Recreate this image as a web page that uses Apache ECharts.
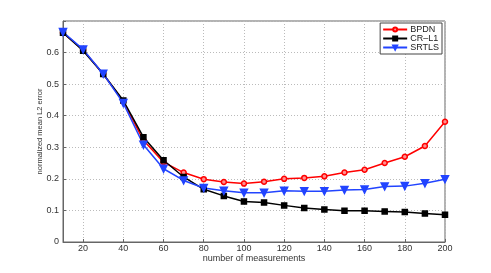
<!DOCTYPE html>
<html><head><meta charset="utf-8">
<script src="https://cdn.jsdelivr.net/npm/echarts@6/dist/echarts.min.js"></script>
<style>html,body{margin:0;padding:0;background:#fff}#c{width:491px;height:273px}</style>
</head><body><div id="c"></div>
<script>
var measurements = [10,20,30,40,50,60,70,80,90,100,110,120,130,140,150,160,170,180,190,200];
var bpdn  = [0.663,0.608,0.532,0.445,0.322,0.253,0.220,0.199,0.190,0.185,0.191,0.200,0.203,0.208,0.220,0.229,0.250,0.270,0.304,0.381];
var crl1  = [0.663,0.606,0.532,0.448,0.332,0.259,0.206,0.167,0.146,0.128,0.125,0.116,0.108,0.103,0.099,0.099,0.097,0.095,0.090,0.086];
var srtls = [0.665,0.610,0.533,0.440,0.308,0.232,0.195,0.171,0.162,0.156,0.156,0.162,0.161,0.161,0.165,0.166,0.176,0.177,0.186,0.199];
var yTicks = [0,0.1,0.2,0.3,0.4,0.5,0.6];

var chart = echarts.init(document.getElementById('c'));
var font = 'Liberation Sans';
function ser(name, data, color, symbol, size, fill, rot){
  return {name:name, type:'line', data:data, color:color, symbol:symbol, symbolSize:size,
    symbolRotate: rot||0, showSymbol:true, animation:false,
    lineStyle:{color:color,width:1.5},
    itemStyle:{color:fill,borderColor:color,borderWidth:1.5}};
}
chart.setOption({
  animation:false,
  backgroundColor:'#fff',
  grid:{left:63,right:46,top:21,bottom:31,show:true,borderColor:'#666',borderWidth:1},
  legend:{orient:'vertical',right:49,top:23,itemGap:0,itemWidth:24,itemHeight:5,
    padding:[2,3,2,2],borderColor:'#444',borderWidth:1,backgroundColor:'#fff',
    textStyle:{fontFamily:font,fontSize:9,color:'#222',padding:[0,0,0,-2]},
    data:['BPDN','CR\u2013L1','SRTLS']},
  xAxis:{type:'category',boundaryGap:false,data:measurements,
    name:'number of measurements',nameLocation:'middle',nameGap:12,nameMoveOverlap:false,
    nameTextStyle:{fontFamily:font,fontSize:9,color:'#333'},
    axisLine:{lineStyle:{color:'#666'}},
    axisTick:{inside:true,length:3,interval:function(i,v){return v%20===0;},lineStyle:{color:'#666'}},
    axisLabel:{fontFamily:font,fontSize:9,color:'#333',margin:2,interval:function(i,v){return v%20===0;}},
    splitLine:{show:true,interval:function(i,v){return v%20===0 && v!==200;},lineStyle:{color:'#bbb',type:[1,2],width:1}}},
  yAxis:{type:'value',min:0,max:0.7,interval:0.1,
    name:'normalized mean L2 error',nameLocation:'middle',nameGap:19,nameMoveOverlap:false,
    nameTextStyle:{fontFamily:font,fontSize:7.5,color:'#333'},
    axisLine:{show:true,lineStyle:{color:'#666'}},
    axisTick:{show:true,inside:true,length:3,lineStyle:{color:'#666'}},
    axisLabel:{fontFamily:font,fontSize:9,color:'#333',margin:4,
      formatter:function(v){var r=Math.round(v*10)/10; return yTicks.indexOf(r)>=0 ? (r===0?'0':r.toFixed(1)) : '';}},
    splitLine:{show:true,lineStyle:{color:'#bbb',type:[1,2],width:1}}},
  series:[
    ser('BPDN',bpdn,'#ff0000','circle',5,'#ff9090'),
    ser('CR\u2013L1',crl1,'#000000','rect',5,'#000000'),
    ser('SRTLS',srtls,'#2244ff','triangle',7,'#2244ff',180)
  ]
});
</script></body></html>
